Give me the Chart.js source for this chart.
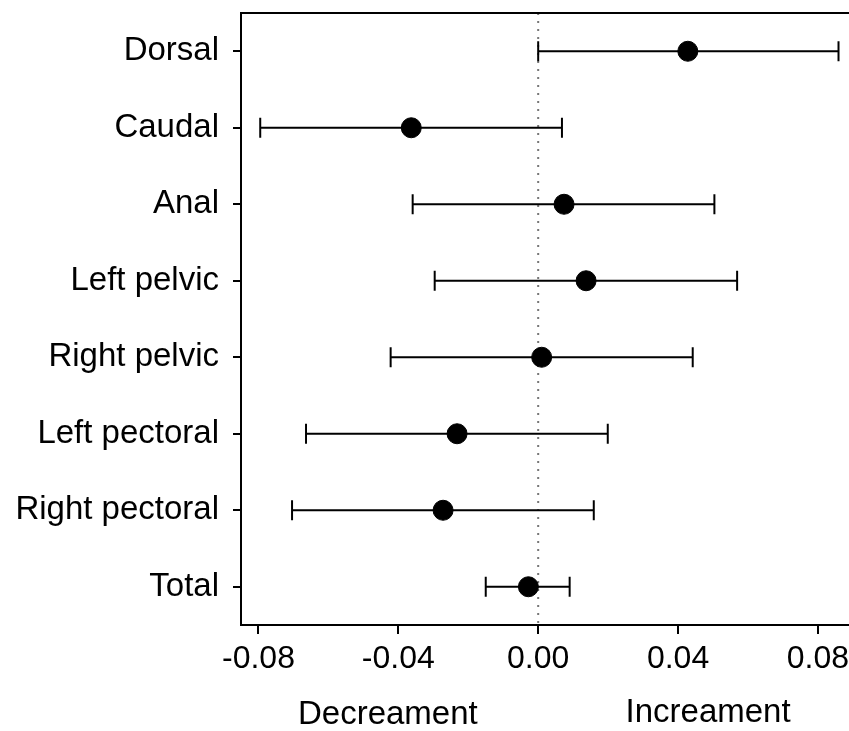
<!DOCTYPE html>
<html>
<head>
<meta charset="utf-8">
<script src="https://cdn.jsdelivr.net/npm/chart.js@4"></script>
<style>
  html, body { margin: 0; padding: 0; background: #fff; overflow: hidden; }
  #wrap { position: relative; width: 849px; height: 731px; }
  #forestChart { display: block; }
</style>
</head>
<body>
<div id="wrap"><canvas id="forestChart"></canvas></div>
<script>
var categories = ["Dorsal", "Caudal", "Anal", "Left pelvic", "Right pelvic", "Left pectoral", "Right pectoral", "Total"];
var estimate = [0.0428, -0.0363, 0.0074, 0.0137, 0.0010, -0.0232, -0.0272, -0.0028];
var lower = [0.0000, -0.0795, -0.0359, -0.0296, -0.0422, -0.0664, -0.0704, -0.0150];
var upper = [0.0859, 0.0068, 0.0504, 0.0569, 0.0442, 0.0199, 0.0159, 0.0090];
var xTicks = [-0.08, -0.04, 0.00, 0.04, 0.08];

var fontFamily = "'Liberation Sans', Arial, sans-serif";

// interval segments, separated by gaps
var ciData = [];
categories.forEach(function(c, i) {
    ciData.push({x: lower[i], y: i});
    ciData.push({x: upper[i], y: i});
    ciData.push({x: null, y: i});
});

var pointData = estimate.map(function(v, i) { return {x: v, y: i}; });

var framePlugin = {
    id: 'frame',
    afterDraw: function(chart) {
        var ctx = chart.ctx;
        var area = chart.chartArea;
        var xs = chart.scales.x;
        ctx.save();
        ctx.strokeStyle = '#000';
        ctx.lineWidth = 2;
        ctx.beginPath();
        ctx.moveTo(area.left - 1, area.top);
        ctx.lineTo(area.right, area.top);
        ctx.stroke();

        ctx.fillStyle = '#000';
        ctx.font = '33px ' + fontFamily;
        ctx.textAlign = 'center';
        ctx.textBaseline = 'middle';
        ctx.fillText('Decreament', xs.getPixelForValue(-0.043), 715);
        ctx.fillText('Increament', xs.getPixelForValue(0.0486), 713);
        ctx.restore();
    }
};

var chart = new Chart(document.getElementById('forestChart'), {
    type: 'scatter',
    data: {
        datasets: [
            {
                label: 'zero',
                data: [{x: 0, y: -0.5}, {x: 0, y: 7.5}],
                showLine: true,
                pointRadius: 0,
                borderColor: '#777',
                borderWidth: 2,
                borderDash: [2, 6],
                order: 3
            },
            {
                label: 'interval',
                data: ciData,
                showLine: true,
                spanGaps: false,
                borderColor: '#000',
                borderWidth: 2,
                pointStyle: 'line',
                rotation: 90,
                pointRadius: 10,
                pointBorderWidth: 2,
                pointBorderColor: '#000',
                order: 2
            },
            {
                label: 'estimate',
                data: pointData,
                pointRadius: 10,
                pointBackgroundColor: '#000',
                pointBorderColor: '#000',
                order: 1
            }
        ]
    },
    options: {
        responsive: true,
        maintainAspectRatio: false,
        animation: false,
        layout: { autoPadding: false, padding: { top: 13, right: 0, left: 0, bottom: 0 } },
        plugins: {
            legend: { display: false },
            tooltip: { enabled: false }
        },
        scales: {
            x: {
                type: 'linear',
                min: -0.085,
                max: 0.0889,
                afterBuildTicks: function(scale) {
                    scale.ticks = xTicks.map(function(v) { return {value: v}; });
                },
                afterFit: function(scale) {
                    scale.height = 106;
                    scale.paddingLeft = 0;
                    scale.paddingRight = 0;
                },
                ticks: {
                    color: '#000',
                    padding: 6,
                    maxRotation: 0,
                    font: { family: fontFamily, size: 32 },
                    callback: function(v) { return v.toFixed(2); }
                },
                grid: { drawOnChartArea: false, tickLength: 9, color: '#000', lineWidth: 2 },
                border: { color: '#000', width: 2 }
            },
            y: {
                type: 'linear',
                reverse: true,
                min: -0.5,
                max: 7.5,
                afterBuildTicks: function(scale) {
                    scale.ticks = categories.map(function(c, i) { return {value: i}; });
                },
                afterFit: function(scale) {
                    scale.width = 241;
                    scale.paddingTop = 0;
                    scale.paddingBottom = 0;
                },
                ticks: {
                    color: '#000',
                    padding: 14,
                    font: { family: fontFamily, size: 33 },
                    callback: function(v) { return categories[v]; }
                },
                grid: { drawOnChartArea: false, tickLength: 8, color: '#000', lineWidth: 2 },
                border: { color: '#000', width: 2 }
            }
        }
    },
    plugins: [framePlugin]
});
</script>
</body>
</html>
